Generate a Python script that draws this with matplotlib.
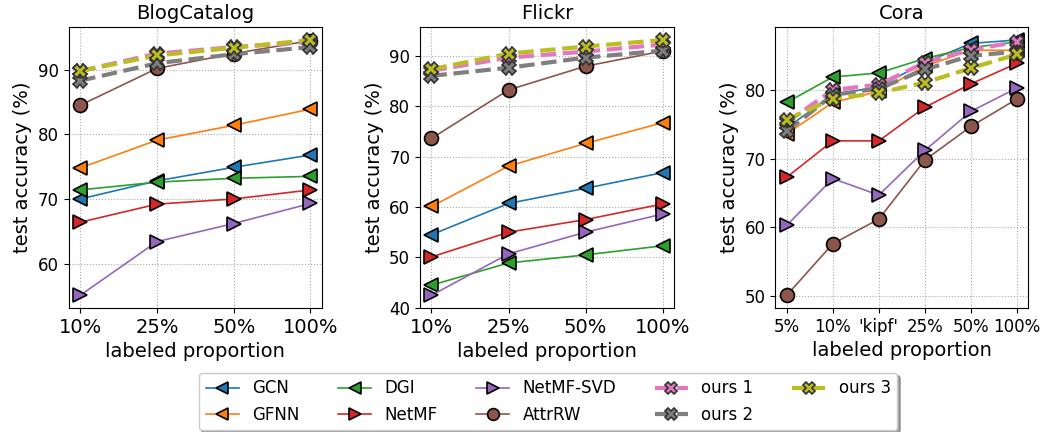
import matplotlib
matplotlib.use("Agg")
import matplotlib.pyplot as plt

methods = ["GCN", "GFNN", "DGI", "NetMF", "NetMF-SVD", "AttrRW", "ours 1", "ours 2", "ours 3"]

blog_x = ["10%", "25%", "50%", "100%"]
blog = {
    "GCN": [70.0, 72.8, 74.9, 76.8],
    "GFNN": [74.8, 79.1, 81.4, 83.9],
    "DGI": [71.4, 72.6, 73.2, 73.5],
    "NetMF": [66.4, 69.2, 70.0, 71.4],
    "NetMF-SVD": [55.1, 63.4, 66.2, 69.3],
    "AttrRW": [84.5, 90.2, 92.5, 94.5],
    "ours 1": [89.8, 92.5, 93.5, 94.3],
    "ours 2": [88.3, 91.0, 92.4, 93.5],
    "ours 3": [89.8, 92.2, 93.4, 94.6],
}

flickr_x = ["10%", "25%", "50%", "100%"]
flickr = {
    "GCN": [54.5, 60.7, 63.7, 66.8],
    "GFNN": [60.1, 68.1, 72.6, 76.7],
    "DGI": [44.5, 48.9, 50.5, 52.3],
    "NetMF": [50.1, 55.0, 57.5, 60.6],
    "NetMF-SVD": [42.5, 50.7, 55.0, 58.6],
    "AttrRW": [73.6, 83.2, 87.9, 90.9],
    "ours 1": [87.0, 89.6, 90.8, 92.2],
    "ours 2": [86.0, 87.6, 89.6, 91.0],
    "ours 3": [87.3, 90.4, 91.8, 93.1],
}

cora_x = ["5%", "10%", "'kipf'", "25%", "50%", "100%"]
cora = {
    "GCN": [74.5, 79.3, 80.5, 84.0, 86.8, 87.3],
    "GFNN": [73.6, 78.2, 79.8, 83.5, 85.8, 85.8],
    "DGI": [78.2, 81.9, 82.5, 84.6, 86.2, 87.0],
    "NetMF": [67.3, 72.6, 72.6, 77.5, 80.9, 83.9],
    "NetMF-SVD": [60.3, 67.1, 64.7, 71.2, 76.9, 80.3],
    "AttrRW": [50.1, 57.6, 61.2, 69.8, 74.7, 78.7],
    "ours 1": [75.3, 80.0, 80.8, 84.0, 85.9, 87.0],
    "ours 2": [74.0, 79.3, 80.2, 83.0, 85.0, 85.6],
    "ours 3": [75.7, 78.7, 79.6, 81.1, 83.2, 85.2],
}

colors = {
    "GCN": "tab:blue", "GFNN": "tab:orange", "DGI": "tab:green",
    "NetMF": "tab:red", "NetMF-SVD": "tab:purple", "AttrRW": "tab:brown",
    "ours 1": "tab:pink", "ours 2": "tab:gray", "ours 3": "tab:olive",
}
markers = {
    "GCN": "<", "GFNN": "<", "DGI": "<", "NetMF": ">", "NetMF-SVD": ">",
    "AttrRW": "o", "ours 1": "X", "ours 2": "X", "ours 3": "X",
}

fig = plt.figure(figsize=(10.42, 4.32), dpi=100)
panels = [
    ("BlogCatalog", blog_x, blog, [0.066, 0.287, 0.243, 0.650], 14),
    ("Flickr", flickr_x, flickr, [0.403, 0.287, 0.244, 0.650], 14),
    ("Cora", cora_x, cora, [0.744, 0.287, 0.243, 0.650], 12),
]

for title, xl, data, rect, xfs in panels:
    ax = fig.add_axes(rect)
    xs = list(range(len(xl)))
    for m in methods:
        if m.startswith("ours"):
            ax.plot(xs, data[m], color=colors[m], marker="X", linestyle="--",
                    linewidth=3, markersize=10, markeredgecolor="#333333",
                    markeredgewidth=1.2, label=m)
        else:
            ax.plot(xs, data[m], color=colors[m], marker=markers[m],
                    linewidth=1.2, markersize=10, markeredgecolor="black",
                    markeredgewidth=1.2, label=m)
    ax.set_xticks(xs)
    ax.set_xticklabels(xl, fontsize=xfs)
    ax.tick_params(axis="y", labelsize=12)
    ax.grid(True, linestyle=":", color="#aaaaaa")
    ax.set_title(title, fontsize=14)
    ax.set_xlabel("labeled proportion", fontsize=14)
    ax.set_ylabel("test accuracy (%)", fontsize=14)

handles, labels = ax.get_legend_handles_labels()
fig.legend(handles, labels, loc="upper center", bbox_to_anchor=(0.526, 0.137),
           ncol=5, fontsize=12, shadow=True, fancybox=True, markerscale=0.85,
           borderaxespad=0.0, columnspacing=2.3)

fig.savefig("out.png", dpi=100)
